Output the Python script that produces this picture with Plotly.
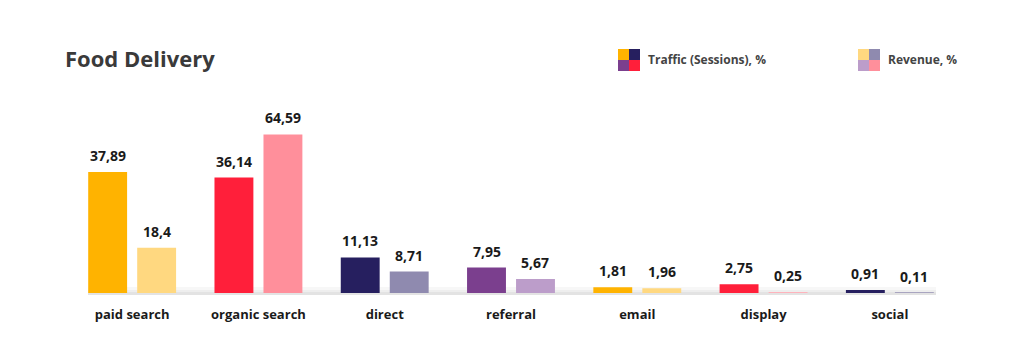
import plotly.graph_objects as go

categories = ["paid search", "organic search", "direct", "referral", "email", "display", "social"]
traffic = [37.89, 36.14, 11.13, 7.95, 1.81, 2.75, 0.91]
revenue = [18.4, 64.59, 8.71, 5.67, 1.96, 0.25, 0.11]
traffic_colors = ["#FFB300", "#FF1F3A", "#261F5F", "#7B3F8E", "#FFB300", "#FF1F3A", "#261F5F"]
revenue_colors = ["#FFD880", "#FF8F9B", "#8F8AAF", "#BC9DCA", "#FFD880", "#FFB3BC", "#A9A5C0"]
legend_names = ["Traffic (Sessions), %", "Revenue, %"]
title = "Food Delivery"

W, H = 1024, 347
ml, mr, mt, mb = 69, 71, 100, 54
pw, ph = W - ml - mr, H - mt - mb
bar_w = 0.308
off_t, off_r = -0.348, 0.04
unit_px = pw / 7.0

def px(x):
    return (x - ml) / pw

def py(y):
    return (H - mb - y) / ph

def fmt(v):
    return str(v).replace(".", ",")

label_font = dict(family="Open Sans", size=14, color="#1a1a1a", weight="bold")

fig = go.Figure()
fig.add_trace(go.Bar(
    x=categories, y=traffic, name=legend_names[0], marker=dict(color=traffic_colors, line=dict(width=0)),
    width=bar_w, offset=off_t, yaxis="y",
))
fig.add_trace(go.Bar(
    x=categories, y=revenue, name=legend_names[1], marker=dict(color=revenue_colors, line=dict(width=0)),
    width=bar_w, offset=off_r, yaxis="y2",
))

shapes = []
# baseline shadow (soft gradient)
for y0, y1, c in [(287, 290, "#f7f7f7"), (290, 292, "#eeeeee"), (292, 295, "#e3e3e3")]:
    shapes.append(dict(type="rect", xref="paper", yref="paper", x0=px(88), x1=px(936), y0=py(y1), y1=py(y0),
                       fillcolor=c, line=dict(width=0), layer="below"))

def legend_icon(x0, y0, cols):
    s = 11
    pos = [(0, 0), (1, 0), (0, 1), (1, 1)]
    for (i, j), c in zip(pos, cols):
        shapes.append(dict(type="rect", xref="paper", yref="paper",
                           x0=px(x0 + i * s), x1=px(x0 + (i + 1) * s),
                           y0=py(y0 + (j + 1) * s), y1=py(y0 + j * s),
                           fillcolor=c, line=dict(width=0)))

legend_icon(618, 49, ["#FFB300", "#261F5F", "#7B3F8E", "#FF1F3A"])
legend_icon(858, 49, ["#FFD880", "#8F8AAF", "#BC9DCA", "#FF8F9B"])

annotations = [
    dict(text=title, xref="paper", yref="paper", x=px(63), y=py(58), xanchor="left", yanchor="middle",
         showarrow=False, font=dict(family="Open Sans", size=22, color="#3a3a3a", weight="bold")),
    dict(text=legend_names[0], xref="paper", yref="paper", x=px(646), y=py(60), xanchor="left", yanchor="middle",
         showarrow=False, font=dict(family="Open Sans", size=12, color="#444444", weight="bold")),
    dict(text=legend_names[1], xref="paper", yref="paper", x=px(886), y=py(60), xanchor="left", yanchor="middle",
         showarrow=False, font=dict(family="Open Sans", size=12, color="#444444", weight="bold")),
]
for cat, v in zip(categories, traffic):
    annotations.append(dict(text=fmt(v), x=cat, y=v, xref="x", yref="y", xanchor="center", yanchor="bottom",
                            xshift=(off_t + bar_w / 2) * unit_px, yshift=5, showarrow=False, font=label_font))
for cat, v in zip(categories, revenue):
    annotations.append(dict(text=fmt(v), x=cat, y=v, xref="x", yref="y2", xanchor="center", yanchor="bottom",
                            xshift=(off_r + bar_w / 2) * unit_px, yshift=5, showarrow=False, font=label_font))

fig.update_layout(
    width=W, height=H, margin=dict(l=ml, r=mr, t=mt, b=mb, autoexpand=False),
    plot_bgcolor="white", paper_bgcolor="white", showlegend=False, barmode="overlay",
    xaxis=dict(range=[-0.5, 6.5], showgrid=False, zeroline=False, showline=False, ticks="",
               tickfont=dict(family="Open Sans", size=13, color="#1a1a1a", weight="bold"),
               ticklabelstandoff=12),
    yaxis=dict(range=[0, 60.4], visible=False, showgrid=False, zeroline=False),
    yaxis2=dict(range=[0, 78.6], visible=False, showgrid=False, zeroline=False, overlaying="y"),
    shapes=shapes, annotations=annotations,
)

fig.write_html("out.html")
